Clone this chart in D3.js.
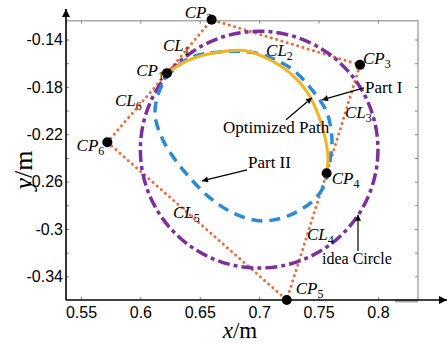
<!DOCTYPE html>
<html>
<head>
<meta charset="utf-8">
<script src="https://cdn.jsdelivr.net/npm/d3@7"></script>
<style>
	body { margin: 0; background: #fff; }
	svg { display: block; font-family: "Liberation Serif", "Times New Roman", serif; }
</style>
</head>
<body>
<svg width="448" height="343"></svg>
<script>
// Control points (polygon corners)
var cpNames = ["1", "2", "3", "4", "5", "6"];
var cpX = [0.6224, 0.6600, 0.7849, 0.7568, 0.7232, 0.5722];
var cpY = [-0.1684, -0.1233, -0.1614, -0.2529, -0.3600, -0.2267];

// Ideal circle
var idealCenter = [0.700, -0.233];
var idealR = 0.1;

// Optimized path (Part I)
var optX = [0.6224, 0.6376, 0.6544, 0.6712, 0.6881, 0.7074, 0.7259, 0.7403, 0.7495, 0.7554, 0.7579, 0.7568];
var optY = [-0.1681, -0.1588, -0.1529, -0.1499, -0.1495, -0.1563, -0.1681, -0.1842, -0.2028, -0.2222, -0.2391, -0.2529];

// Part II closed curve
var p2X = [0.7571, 0.7537, 0.7453, 0.7243, 0.7024, 0.6797, 0.6586, 0.6418, 0.6275, 0.6174, 0.6123, 0.6148, 0.6232, 0.6418, 0.6670, 0.6965, 0.7260, 0.7445, 0.7571, 0.7613, 0.7596];
var p2Y = [-0.2543, -0.2653, -0.2763, -0.2890, -0.2932, -0.2873, -0.2738, -0.2569, -0.2391, -0.2214, -0.2036, -0.1867, -0.1706, -0.1555, -0.1505, -0.1513, -0.1639, -0.1825, -0.2019, -0.2248, -0.2417];

// Ticks
var xTicks = [0.55, 0.6, 0.65, 0.7, 0.75, 0.8];
var xTickLabels = ["0.55", "0.6", "0.65", "0.7", "0.75", "0.8"];
var yTicks = [-0.14, -0.16, -0.18, -0.2, -0.22, -0.24, -0.26, -0.28, -0.3, -0.32, -0.34];
var yTickLabels = ["-0.14", "", "-0.18", "", "-0.22", "", "-0.26", "", "-0.3", "", "-0.34"];

// Line labels CL1..CL6 (text start, baseline)
var clX = [0.6190, 0.7058, 0.7722, 0.7403, 0.6275, 0.5786];
var clY = [-0.1495, -0.1537, -0.2062, -0.3093, -0.2907, -0.1960];

// Annotations with arrows
var notes = ["Part I", "Optimized Path", "Part II", "idea Circle"];
var noteX = [0.7891, 0.6696, 0.6906, 0.7529];
var noteY = [-0.1850, -0.2188, -0.2484, -0.3296];
var arrowFrom = [[0.7882, -0.1808], [0.7226, -0.2078], [0.6898, -0.2501], [0.7832, -0.3186]];
var arrowTo = [[0.7529, -0.1910], [0.7445, -0.1892], [0.6519, -0.2594], [0.7832, -0.2881]];

var svg = d3.select("svg");

var x = d3.scaleLinear().domain([0.5374, 0.8337]).range([66, 418]);
var y = d3.scaleLinear().domain([-0.36, -0.1241]).range([300, 20.7]);

// Arrow heads
var defs = svg.append("defs");
defs.append("marker").attr("id", "axisHead")
	.attr("viewBox", "0 0 10 10").attr("refX", 10).attr("refY", 5)
	.attr("markerWidth", 10).attr("markerHeight", 8).attr("markerUnits", "userSpaceOnUse")
	.attr("orient", "auto")
	.append("path").attr("d", "M0,0L10,5L0,10Z").attr("fill", "#000");
defs.append("marker").attr("id", "noteHead")
	.attr("viewBox", "0 0 10 10").attr("refX", 10).attr("refY", 5)
	.attr("markerWidth", 9).attr("markerHeight", 6).attr("markerUnits", "userSpaceOnUse")
	.attr("orient", "auto")
	.append("path").attr("d", "M0,0L10,5L0,10Z").attr("fill", "#000");

// Frame (top and right, gray)
svg.append("path")
	.attr("d", "M" + x.range()[0] + "," + y.range()[1] + "H" + x.range()[1] + "V" + y.range()[0])
	.attr("fill", "none").attr("stroke", "#aaa").attr("stroke-width", 1.5);
svg.append("rect")
	.attr("x", x.range()[1] - 23).attr("y", y.range()[0] - 0.5)
	.attr("width", 23).attr("height", 3).attr("fill", "#aaa");

// Axes (ticks pointing inward)
function styleAxis(g) {
	g.select(".domain").remove();
	g.selectAll(".tick line").attr("stroke", "#888");
	g.selectAll(".tick text").attr("fill", "#000").attr("font-size", 16).attr("font-family", null);
}
svg.append("g").attr("transform", "translate(0," + y.range()[0] + ")")
	.call(d3.axisBottom(x).tickValues(xTicks).tickSize(-3).tickPadding(7)
		.tickFormat((d, i) => xTickLabels[i]))
	.call(styleAxis);
svg.append("g").attr("transform", "translate(0," + y.range()[1] + ")")
	.call(d3.axisTop(x).tickValues(xTicks).tickSize(-3).tickFormat(""))
	.call(styleAxis);
svg.append("g").attr("transform", "translate(" + x.range()[0] + ",0)")
	.call(d3.axisLeft(y).tickValues(yTicks).tickSize(-3).tickPadding(3)
		.tickFormat((d, i) => yTickLabels[i]))
	.call(styleAxis);
svg.append("g").attr("transform", "translate(" + x.range()[1] + ",0)")
	.call(d3.axisRight(y).tickValues(yTicks).tickSize(-3).tickFormat(""))
	.call(styleAxis);

var plot = svg.append("g");

// Control polygon (dotted)
var poly = cpX.map((d, i) => [x(d), y(cpY[i])]);
plot.append("path")
	.attr("d", "M" + poly.join("L") + "Z")
	.attr("fill", "none").attr("stroke", "#ef6b38").attr("stroke-width", 3)
	.attr("stroke-dasharray", "0.1 5.4").attr("stroke-linecap", "round");

// Ideal circle
plot.append("ellipse")
	.attr("cx", x(idealCenter[0])).attr("cy", y(idealCenter[1]))
	.attr("rx", x(idealCenter[0] + idealR) - x(idealCenter[0]))
	.attr("ry", y(idealCenter[1]) - y(idealCenter[1] + idealR))
	.attr("fill", "none").attr("stroke", "#7d2f9f").attr("stroke-width", 3.5)
	.attr("stroke-dasharray", "12 4 4 4");

// Part II (blue dashed)
var p2 = p2X.map((d, i) => [x(d), y(p2Y[i])]);
plot.append("path")
	.attr("d", d3.line().curve(d3.curveCatmullRomClosed)(p2))
	.attr("fill", "none").attr("stroke", "#2b8bd5").attr("stroke-width", 3.5)
	.attr("stroke-dasharray", "11 7");

// Optimized path (solid)
var opt = optX.map((d, i) => [x(d), y(optY[i])]);
plot.append("path")
	.attr("d", d3.line().curve(d3.curveCatmullRom)(opt))
	.attr("fill", "none").attr("stroke", "#f4b321").attr("stroke-width", 3);

// Control points
plot.selectAll("circle.cp").data(poly).enter().append("circle")
	.attr("class", "cp")
	.attr("cx", (d) => d[0]).attr("cy", (d) => d[1])
	.attr("r", 5).attr("fill", "#000");

// CP labels, offsets from each dot
var cpOff = [[-3, 3, "end"], [-27, -2, "start"], [3, -1, "start"], [5, 11, "start"], [9, -6, "start"], [-3, 9, "end"]];
function subLabel(g, base, sub, px, py, anchor) {
	var t = g.append("text").attr("x", px).attr("y", py)
		.attr("text-anchor", anchor).attr("font-size", 17);
	t.append("tspan").attr("font-style", "italic").text(base);
	t.append("tspan").attr("font-size", 12).attr("dy", 4).text(sub);
	return t;
}
poly.forEach((p, i) => {
	subLabel(svg, "CP", cpNames[i], p[0] + cpOff[i][0], p[1] + cpOff[i][1], cpOff[i][2]);
});
clX.forEach((d, i) => {
	subLabel(svg, "CL", String(i + 1), x(d), y(clY[i]), "start");
});

// Annotations
notes.forEach((n, i) => {
	svg.append("text").attr("x", x(noteX[i])).attr("y", y(noteY[i]))
		.attr("font-size", i == 3 ? 16 : 17).text(n);
	svg.append("line")
		.attr("x1", x(arrowFrom[i][0])).attr("y1", y(arrowFrom[i][1]))
		.attr("x2", x(arrowTo[i][0])).attr("y2", y(arrowTo[i][1]))
		.attr("stroke", "#000").attr("stroke-width", 1.2)
		.attr("marker-end", "url(#noteHead)");
});

// Main axis lines with arrows
svg.append("line")
	.attr("x1", x.range()[0]).attr("y1", y.range()[0]).attr("x2", x.range()[0]).attr("y2", 9)
	.attr("stroke", "#000").attr("stroke-width", 1.6).attr("marker-end", "url(#axisHead)");
svg.append("line")
	.attr("x1", x.range()[0]).attr("y1", y.range()[0]).attr("x2", 447).attr("y2", y.range()[0])
	.attr("stroke", "#000").attr("stroke-width", 1.6).attr("marker-end", "url(#axisHead)");

// Axis titles
var xt = svg.append("text").attr("x", 240).attr("y", 338)
	.attr("text-anchor", "middle").attr("font-size", 23);
xt.append("tspan").attr("font-style", "italic").text("x");
xt.append("tspan").text("/m");
var yt = svg.append("text").attr("transform", "translate(32,170) rotate(-90)")
	.attr("text-anchor", "middle").attr("font-size", 26);
yt.append("tspan").attr("font-style", "italic").text("y");
yt.append("tspan").text("/m");
</script>
</body>
</html>
